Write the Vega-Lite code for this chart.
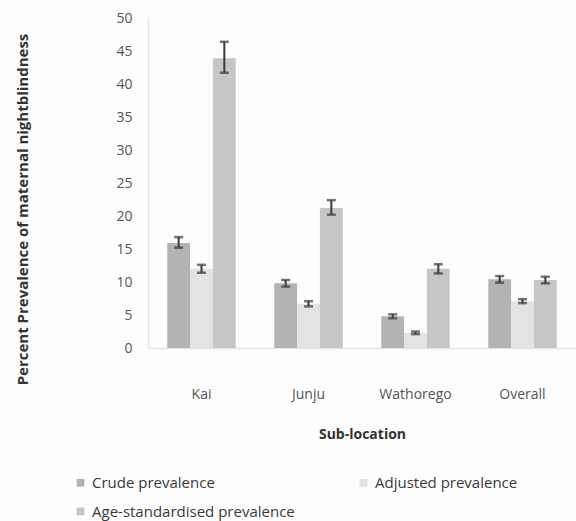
{
  "$schema": "https://vega.github.io/schema/vega-lite/v6.json",
  "width": 428,
  "height": 330,
  "autosize": {"type": "none"},
  "padding": {"left": 148, "top": 18, "right": 0, "bottom": 173},
  "background": "#fdfdfd",
  "config": {
    "view": {"stroke": null},
    "font": "Open Sans",
    "axisY": {
      "titleFontSize": 15, "titleFontWeight": "bold",
      "titleColor": "#333", "titleX": -126, "titleY": 191, "titleAngle": -90, "titleAlign": "center", "titleBaseline": "middle",
      "labelOverlap": false, "labelFontSize": 14, "labelColor": "#555", "labelPadding": 16,
      "ticks": false, "grid": false, "domainColor": "#e6e6e6", "domainWidth": 1.5
    }
  },
  "data": {
    "values": [
      {"loc": "Kai", "measure": "Crude prevalence", "value": 15.9, "lo": 15.2, "hi": 16.8},
      {"loc": "Kai", "measure": "Adjusted prevalence", "value": 12.0, "lo": 11.4, "hi": 12.6},
      {"loc": "Kai", "measure": "Age-standardised prevalence", "value": 43.9, "lo": 41.7, "hi": 46.4},
      {"loc": "Junju", "measure": "Crude prevalence", "value": 9.8, "lo": 9.3, "hi": 10.3},
      {"loc": "Junju", "measure": "Adjusted prevalence", "value": 6.7, "lo": 6.3, "hi": 7.1},
      {"loc": "Junju", "measure": "Age-standardised prevalence", "value": 21.2, "lo": 20.2, "hi": 22.4},
      {"loc": "Wathorego", "measure": "Crude prevalence", "value": 4.8, "lo": 4.5, "hi": 5.1},
      {"loc": "Wathorego", "measure": "Adjusted prevalence", "value": 2.3, "lo": 2.1, "hi": 2.5},
      {"loc": "Wathorego", "measure": "Age-standardised prevalence", "value": 12.0, "lo": 11.3, "hi": 12.7},
      {"loc": "Overall", "measure": "Crude prevalence", "value": 10.4, "lo": 9.9, "hi": 10.9},
      {"loc": "Overall", "measure": "Adjusted prevalence", "value": 7.1, "lo": 6.8, "hi": 7.4},
      {"loc": "Overall", "measure": "Age-standardised prevalence", "value": 10.3, "lo": 9.8, "hi": 10.8}
    ]
  },
  "encoding": {
    "x": {
      "field": "loc", "type": "nominal", "sort": ["Kai", "Junju", "Wathorego", "Overall"],
      "scale": {"paddingInner": 0.36, "paddingOuter": 0.18},
      "axis": {
        "title": "Sub-location", "titleFontSize": 14, "titleFontWeight": "bold",
        "titleColor": "#333", "titlePadding": 26,
        "labelAngle": 0, "labelFontSize": 14, "labelColor": "#555", "labelPadding": 39,
        "ticks": false, "domainColor": "#e6e6e6", "domainWidth": 1.5
      }
    },
    "xOffset": {"field": "measure", "type": "nominal", "sort": ["Crude prevalence", "Adjusted prevalence", "Age-standardised prevalence"]}
  },
  "layer": [
    {
      "mark": {"type": "bar"},
      "encoding": {
        "y": {
          "field": "value", "type": "quantitative",
          "scale": {"domain": [0, 50]},
          "axis": {"title": "Percent Prevalence of maternal nightblindness", "values": [0, 5, 10, 15, 20, 25, 30, 35, 40, 45, 50]}
        },
        "color": {
          "field": "measure", "type": "nominal",
          "sort": ["Crude prevalence", "Adjusted prevalence", "Age-standardised prevalence"],
          "scale": {"domain": ["Crude prevalence", "Adjusted prevalence", "Age-standardised prevalence"], "range": ["#b3b3b3", "#e3e3e3", "#c6c6c6"]},
          "legend": {
            "title": null, "orient": "none", "legendX": -75, "legendY": 457, "columns": 2, "direction": "horizontal",
            "columnPadding": 61, "rowPadding": 13, "labelFontSize": 15, "labelColor": "#3a3a3a", "labelLimit": 300,
            "symbolType": "square", "symbolSize": 60, "symbolStrokeWidth": 0
          }
        }
      }
    },
    {
      "mark": {"type": "rule", "color": "#3a3a3a", "strokeWidth": 2},
      "encoding": {
        "y": {"field": "lo", "type": "quantitative", "axis": {"title": "Percent Prevalence of maternal nightblindness", "values": [0, 5, 10, 15, 20, 25, 30, 35, 40, 45, 50]}},
        "y2": {"field": "hi"}
      }
    },
    {
      "mark": {"type": "tick", "color": "#3a3a3a", "thickness": 2.5, "size": 9},
      "encoding": {"y": {"field": "lo", "type": "quantitative", "axis": {"title": "Percent Prevalence of maternal nightblindness", "values": [0, 5, 10, 15, 20, 25, 30, 35, 40, 45, 50]}}}
    },
    {
      "mark": {"type": "tick", "color": "#3a3a3a", "thickness": 2.5, "size": 9},
      "encoding": {"y": {"field": "hi", "type": "quantitative", "axis": {"title": "Percent Prevalence of maternal nightblindness", "values": [0, 5, 10, 15, 20, 25, 30, 35, 40, 45, 50]}}}
    }
  ]
}
